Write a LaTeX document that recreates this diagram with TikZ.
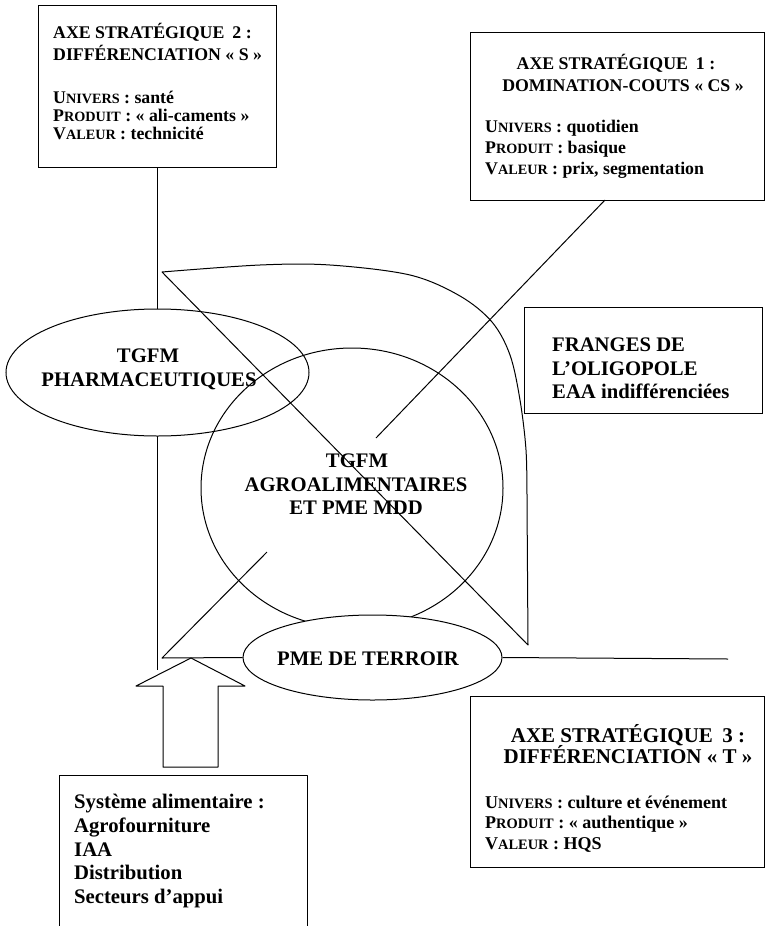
\documentclass[tikz,border=0pt]{standalone}
\usepackage{fontspec}
\setmainfont{Liberation Serif}
\usetikzlibrary{shapes.geometric}
\newcommand\SC[2]{{\fontsize{#1}{#1}\selectfont #2}}
\tikzset{
  ln/.style={line width=1pt, line join=round},
  boxnode/.style={draw, rectangle, line width=1pt, inner sep=0pt},
  oval/.style={draw, ellipse, line width=1pt, inner sep=0pt},
  txt/.style={inner sep=0pt, anchor=base west, font=\bfseries},
  ctxt/.style={inner sep=0pt, anchor=base, font=\bfseries},
  fa/.style={font=\bfseries\fontsize{17.8}{20}\selectfont},
  fb/.style={font=\bfseries\fontsize{20.7}{24}\selectfont},
  fc/.style={font=\bfseries\fontsize{21}{24}\selectfont},
  fd/.style={font=\bfseries\fontsize{18}{20}\selectfont},
}
\begin{document}
\begin{tikzpicture}[x=1pt,y=-1pt]
\useasboundingbox (0,0) rectangle (765,926);

% boxes
\node[boxnode, minimum width=238pt, minimum height=162pt] (box2) at (157,86) {};
\node[boxnode, minimum width=294pt, minimum height=168pt] (box1) at (617,116) {};
\node[boxnode, minimum width=238pt, minimum height=106pt] (franges) at (643,360) {};
\node[boxnode, minimum width=294pt, minimum height=171pt] (box3) at (617,781.5) {};
\node[inner sep=0pt, minimum width=247pt, minimum height=150pt] (sysbox) at (183.5,851) {};
\draw[ln] (sysbox.south west) -- (sysbox.north west) -- (sysbox.north east) -- (sysbox.south east);

% vertical axis from box 2
\coordinate (vEnd) at (157,670);
\draw[ln] (box2.south) -- (vEnd);

% pharma ellipse (covers the vertical line)
\node[oval, fill=white, minimum width=303pt, minimum height=127pt] (pharma) at (157.5,372.5) {};

% big circle
\node[oval, minimum width=302pt, minimum height=280pt] (agro) at (352,488) {};

% sail shape
\draw[ln] plot[smooth, tension=0.55] coordinates {(162,272) (260,265) (330,265) (410,275) (460,296) (492,322) (510,355) (520,400) (526,450) (527,500)} -- (528,645) -- cycle;

% line from box 1
\coordinate (b1s) at (605,200);
\coordinate (b1e) at (376,438);
\draw[ln] (b1s) -- (b1e);

% PME ellipse
\node[oval, fill=white, minimum width=259pt, minimum height=85pt] (pme) at (372.5,657.5) {};

% lower-left line into PME
\coordinate (llA) at (267,552);
\coordinate (llB) at (162,658);
\draw[ln] (llA) -- (llB) -- (pme.west);

% right horizontal line
\coordinate (hEnd) at (728,659);
\draw[ln] (pme.east) -- (hEnd);

% block arrow
\coordinate (apex) at (191,658);
\draw[ln, fill=white] (apex) -- (245,686) -- (218,686) -- (218,767) -- (163,767) -- (163,686) -- (136,686) -- cycle;

% texts box 2
\node[txt, fa] (t2a) at (53,38) {AXE STRATÉGIQUE\hspace{0.45em}2 :};
\node[txt, fa] (t2b) at (53,60) {DIFFÉRENCIATION « S »};
\node[txt, fa] (t2c) at (53,103) {U\SC{14.2}{NIVERS} : santé};
\node[txt, fa] (t2d) at (53,121) {P\SC{14.2}{RODUIT} : « ali-caments »};
\node[txt, fa] (t2e) at (53,139) {V\SC{14.2}{ALEUR} : technicité};

% texts box 1
\node[ctxt, fa] (t1a) at (616,69) {AXE STRATÉGIQUE\hspace{0.45em}1 :};
\node[ctxt, fa] (t1b) at (623,91) {DOMINATION-COUTS « CS »};
\node[txt, fa] (t1c) at (485,132) {U\SC{14.2}{NIVERS} : quotidien};
\node[txt, fa] (t1d) at (485,153) {P\SC{14.2}{RODUIT} : basique};
\node[txt, fa] (t1e) at (485,174) {V\SC{14.2}{ALEUR} : prix, segmentation};

% franges
\node[txt, fb] (tfa) at (552,351) {FRANGES DE};
\node[txt, fb] (tfb) at (552,375) {L’OLIGOPOLE};
\node[txt, fb] (tfc) at (552,398) {EAA indifférenciées};

% pharma text
\node[ctxt, fb] (tpa) at (148,362) {TGFM};
\node[ctxt, fb] (tpb) at (149,386) {PHARMACEUTIQUES};

% agro text
\node[ctxt, fb] (taa) at (357,467) {TGFM};
\node[ctxt, fb] (tab) at (356,491) {AGROALIMENTAIRES};
\node[ctxt, fb] (tac) at (356,514) {ET PME MDD};

% pme text
\node[ctxt, fb] (tpme) at (368,665) {PME DE TERROIR};

% box 3
\node[ctxt, fc] (t3a) at (628,742) {AXE STRATÉGIQUE\hspace{0.45em}3 :};
\node[ctxt, fc] (t3b) at (628,763) {DIFFÉRENCIATION « T »};
\node[txt, fd] (t3c) at (485,808) {U\SC{14.4}{NIVERS} : culture et événement};
\node[txt, fd] (t3d) at (485,828) {P\SC{14.4}{RODUIT} : « authentique »};
\node[txt, fd] (t3e) at (485,849) {V\SC{14.4}{ALEUR} : HQS};

% system box text
\node[txt, fb] (tsa) at (74,808) {Système alimentaire :};
\node[txt, fb] (tsb) at (74,832) {Agrofourniture};
\node[txt, fb] (tsc) at (74,856) {IAA};
\node[txt, fb] (tsd) at (74,879) {Distribution};
\node[txt, fb] (tse) at (74,903) {Secteurs d’appui};
\end{tikzpicture}
\end{document}
